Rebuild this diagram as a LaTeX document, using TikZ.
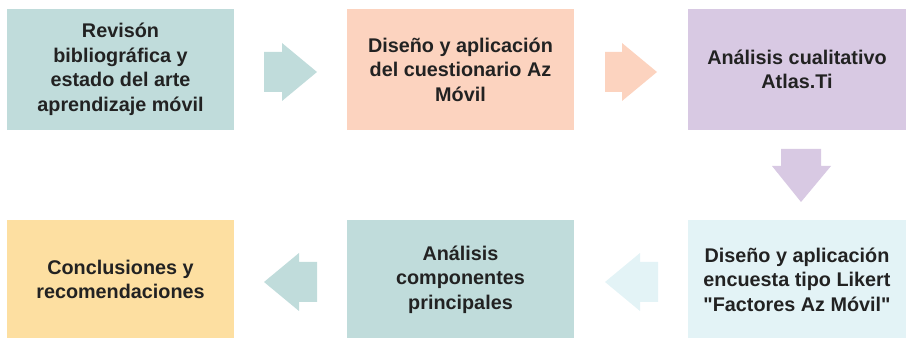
\documentclass[tikz,border=0pt]{standalone}
\usepackage{fontspec}
\setmainfont{Liberation Sans}[Ligatures=TeXOff]
\definecolor{cteal}{HTML}{C0DCDB}
\definecolor{cpeach}{HTML}{FCD3BF}
\definecolor{clav}{HTML}{D8C9E3}
\definecolor{cblue}{HTML}{E3F3F6}
\definecolor{cyell}{HTML}{FDDFA1}
\definecolor{ctext}{HTML}{222222}
\tikzset{
  stepbox/.style={minimum width=227pt, minimum height=121pt, inner sep=0pt, align=center,
    font=\fontsize{19.8pt}{24.5pt}\selectfont\bfseries, text=ctext},
}
\begin{document}
\begin{tikzpicture}[x=1pt,y=-1pt]
\useasboundingbox (0,0) rectangle (906,339);
\node[stepbox, fill=cteal]  (b1) at (120.5,69.5) {Revisón\\bibliográfica y\\estado del arte\\aprendizaje móvil};
\node[stepbox, fill=cpeach] (b2) at (460.5,69.5) {Diseño y aplicación\\del cuestionario Az\\Móvil};
\node[stepbox, fill=clav, minimum width=218pt]   (b3) at (797,69.5) {Análisis cualitativo\\Atlas.Ti};
\node[stepbox, fill=cblue, minimum width=218pt, minimum height=118pt]  (b4) at (797,279.5) {Diseño y aplicación\\encuesta tipo Likert\\"Factores Az Móvil"};
\node[stepbox, fill=cteal, minimum height=118pt]  (b5) at (460.5,279.5) {Análisis\\componentes\\principales};
\node[stepbox, fill=cyell, minimum height=118pt]  (b6) at (120.5,279.5) {Conclusiones y\\recomendaciones};
% arrows
\fill[cteal] (264,52) -- (282,52) -- (282,43) -- (317,72) -- (282,101) -- (282,92) -- (264,92) -- cycle;
\fill[cpeach] (605,52) -- (622,52) -- (622,43) -- (657,72) -- (622,101) -- (622,92) -- (605,92) -- cycle;
\fill[clav] (781,149) -- (821,149) -- (821,166) -- (831,166) -- (801,202) -- (772,166) -- (781,166) -- cycle;
\fill[cblue] (658,262) -- (640,262) -- (640,253) -- (605,282) -- (640,311) -- (640,302) -- (658,302) -- cycle;
\fill[cteal] (317,262) -- (299,262) -- (299,253) -- (264,282) -- (299,311) -- (299,302) -- (317,302) -- cycle;
\end{tikzpicture}
\end{document}
